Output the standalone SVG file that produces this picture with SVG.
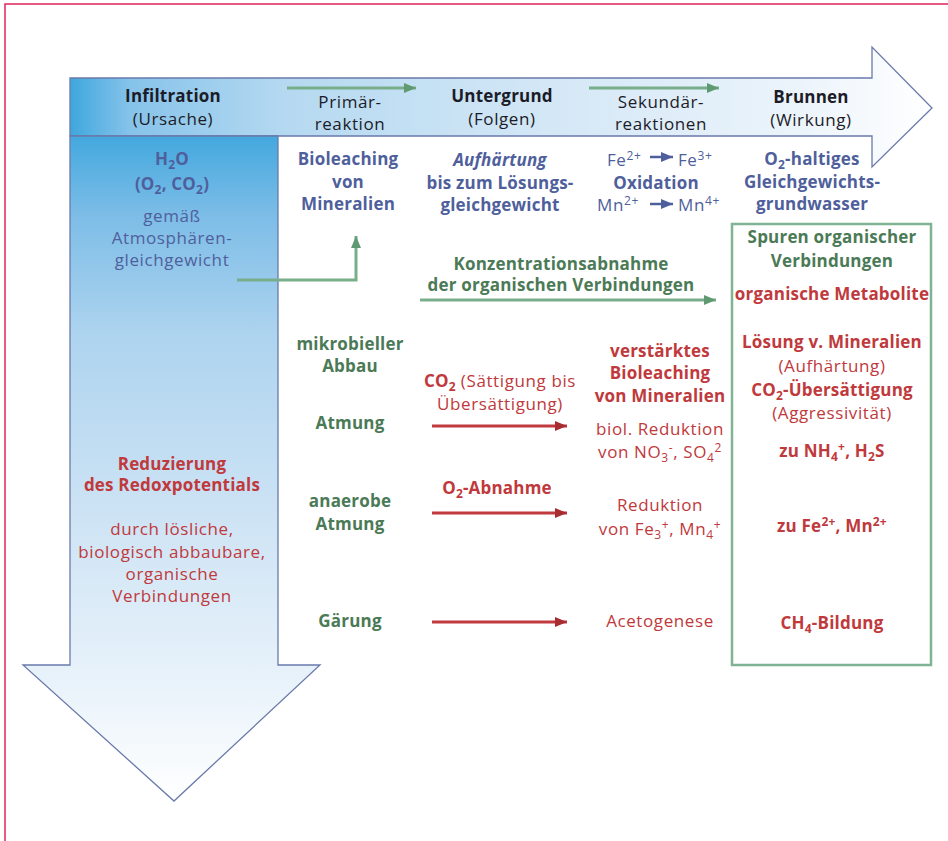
<svg xmlns="http://www.w3.org/2000/svg" width="948" height="841" viewBox="0 0 948 841">
<defs>
<linearGradient id="gh" gradientUnits="userSpaceOnUse" x1="70" y1="0" x2="930" y2="0">
<stop offset="0" stop-color="#3ea7de"/>
<stop offset="0.07" stop-color="#86c3ea"/>
<stop offset="0.25" stop-color="#b5d9f1"/>
<stop offset="0.55" stop-color="#d3e7f6"/>
<stop offset="0.85" stop-color="#ecf4fb"/>
<stop offset="1" stop-color="#ffffff"/>
</linearGradient>
<linearGradient id="gv" gradientUnits="userSpaceOnUse" x1="0" y1="136" x2="0" y2="801">
<stop offset="0" stop-color="#43a8de"/>
<stop offset="0.12" stop-color="#7dbde7"/>
<stop offset="0.3" stop-color="#aed4ef"/>
<stop offset="0.55" stop-color="#cbe2f4"/>
<stop offset="0.8" stop-color="#e6f1fa"/>
<stop offset="1" stop-color="#ffffff"/>
</linearGradient>
<marker id="mg" markerUnits="userSpaceOnUse" markerWidth="14" markerHeight="12" refX="12" refY="6" orient="auto">
<path d="M0,1 L12,6 L0,11 Z" fill="#5f9a72"/>
</marker>
<marker id="mr" markerUnits="userSpaceOnUse" markerWidth="14" markerHeight="12" refX="12" refY="6" orient="auto">
<path d="M0,1 L12,6 L0,11 Z" fill="#a82d31"/>
</marker>
<marker id="mb" markerUnits="userSpaceOnUse" markerWidth="14" markerHeight="12" refX="12" refY="6" orient="auto">
<path d="M0,1 L12,6 L0,11 Z" fill="#4f5f9c"/>
</marker>
</defs>
<style>
text{font-family:"Open Sans","Noto Sans",sans-serif;font-size:17px;letter-spacing:0.6px;text-anchor:middle}
.b{font-weight:bold;letter-spacing:0.2px}
.it{font-style:italic}
.hd{fill:#1c1c28}
.bl{fill:#4f5f9c}
.gr{fill:#4b7a56}
.rd{fill:#c0393c}
.sub{font-size:12px;baseline-shift:-4px}
.sup{font-size:12px;baseline-shift:6px}
.shape{stroke:#6a7aaa;stroke-width:1.3}
.gline{stroke:#79ae8b;stroke-width:3;fill:none}
.rline{stroke:#c0393c;stroke-width:3;fill:none}
</style>
<rect x="5" y="4" width="960" height="860" fill="none" stroke="#e0245a" stroke-width="1.5"/>
<g id="arrow-horizontal">
<polygon class="shape" fill="url(#gh)" points="70,78 872,78 872,47 932,108 872,167 872,136 70,136"/>
</g>
<g id="arrow-down">
<polygon class="shape" fill="url(#gv)" points="70,136 278,136 278,665 320,665 174,801 23,665 70,665"/>
</g>
<g id="connectors">
<line class="gline" x1="287" y1="88" x2="416" y2="88" marker-end="url(#mg)"/>
<line class="gline" x1="589" y1="88" x2="719" y2="88" marker-end="url(#mg)"/>
<polyline class="gline" points="237,280 356,280 356,236" marker-end="url(#mg)"/>
<line class="gline" x1="420" y1="300" x2="716" y2="300" marker-end="url(#mg)"/>
<line class="rline" x1="432" y1="426" x2="567" y2="426" marker-end="url(#mr)"/>
<line class="rline" x1="432" y1="513" x2="567" y2="513" marker-end="url(#mr)"/>
<line class="rline" x1="432" y1="622" x2="567" y2="622" marker-end="url(#mr)"/>
<line x1="650" y1="157" x2="673" y2="157" stroke="#4f5f9c" stroke-width="2.5" marker-end="url(#mb)"/>
<line x1="650" y1="204" x2="673" y2="204" stroke="#4f5f9c" stroke-width="2.5" marker-end="url(#mb)"/>
</g>
<g id="header">
<text class="hd b" x="173" y="102">Infiltration</text>
<text class="hd" x="173" y="125">(Ursache)</text>
<text class="hd" x="350" y="108">Primär-</text>
<text class="hd" x="350" y="130">reaktion</text>
<text class="hd b" x="502" y="102">Untergrund</text>
<text class="hd" x="502" y="125">(Folgen)</text>
<text class="hd" x="661" y="108">Sekundär-</text>
<text class="hd" x="661" y="130">reaktionen</text>
<text class="hd b" x="811" y="103">Brunnen</text>
<text class="hd" x="811" y="126">(Wirkung)</text>
</g>
<g id="node-h2o">
<text class="bl b" x="172" y="165">H<tspan class="sub">2</tspan>O</text>
<text class="bl b" x="172" y="190">(O<tspan class="sub">2</tspan>, CO<tspan class="sub">2</tspan>)</text>
<text class="bl" x="172" y="222">gemäß</text>
<text class="bl" x="172" y="244">Atmosphären-</text>
<text class="bl" x="172" y="266">gleichgewicht</text>
</g>
<g id="node-bioleaching">
<text class="bl b" x="348" y="165">Bioleaching</text>
<text class="bl b" x="348" y="188">von</text>
<text class="bl b" x="348" y="210">Mineralien</text>
</g>
<g id="node-aufhaertung">
<text class="bl b it" x="500" y="166">Aufhärtung</text>
<text class="bl b" x="500" y="189">bis zum Lösungs-</text>
<text class="bl b" x="500" y="211">gleichgewicht</text>
</g>
<g id="node-oxidation">
<text class="bl" x="607" y="166" style="text-anchor:start">Fe<tspan class="sup">2+</tspan></text>
<text class="bl" x="678" y="166" style="text-anchor:start">Fe<tspan class="sup">3+</tspan></text>
<text class="bl b" x="656" y="189">Oxidation</text>
<text class="bl" x="597" y="211" style="text-anchor:start">Mn<tspan class="sup">2+</tspan></text>
<text class="bl" x="678" y="211" style="text-anchor:start">Mn<tspan class="sup">4+</tspan></text>
</g>
<g id="node-o2-grundwasser">
<text class="bl b" x="812" y="165">O<tspan class="sub">2</tspan>-haltiges</text>
<text class="bl b" x="812" y="188">Gleichgewichts-</text>
<text class="bl b" x="812" y="210">grundwasser</text>
</g>
<g id="node-konzentration">
<text class="gr b" x="561" y="270">Konzentrationsabnahme</text>
<text class="gr b" x="561" y="291">der organischen Verbindungen</text>
</g>
<g id="node-brunnen-box">
<rect x="732" y="224" width="199" height="441" fill="none" stroke="#7fb394" stroke-width="2.5"/>
<text class="gr b" x="832" y="243">Spuren organischer</text>
<text class="gr b" x="832" y="267">Verbindungen</text>
<text class="rd b" x="832" y="300">organische Metabolite</text>
<text class="rd b" x="832" y="348">Lösung v. Mineralien</text>
<text class="rd" x="832" y="372">(Aufhärtung)</text>
<text class="rd b" x="832" y="396">CO<tspan class="sub">2</tspan>-Übersättigung</text>
<text class="rd" x="832" y="419">(Aggressivität)</text>
<text class="rd b" x="832" y="457">zu NH<tspan class="sub">4</tspan><tspan class="sup">+</tspan>, H<tspan class="sub">2</tspan>S</text>
<text class="rd b" x="832" y="532">zu Fe<tspan class="sup">2+</tspan>, Mn<tspan class="sup">2+</tspan></text>
<text class="rd b" x="832" y="629">CH<tspan class="sub">4</tspan>-Bildung</text>
</g>
<g id="node-abbau">
<text class="gr b" x="350" y="350">mikrobieller</text>
<text class="gr b" x="350" y="372">Abbau</text>
</g>
<g id="node-atmung">
<text class="gr b" x="350" y="429">Atmung</text>
</g>
<g id="node-anaerob">
<text class="gr b" x="350" y="507">anaerobe</text>
<text class="gr b" x="350" y="530">Atmung</text>
</g>
<g id="node-gaerung">
<text class="gr b" x="350" y="627">Gärung</text>
</g>
<g id="label-co2">
<text class="rd" x="500" y="387"><tspan class="b">CO<tspan class="sub">2</tspan></tspan> (Sättigung bis</text>
<text class="rd" x="500" y="410">Übersättigung)</text>
</g>
<g id="label-o2">
<text class="rd b" x="497" y="494">O<tspan class="sub">2</tspan>-Abnahme</text>
</g>
<g id="node-verstaerkt">
<text class="rd b" x="660" y="357">verstärktes</text>
<text class="rd b" x="660" y="379">Bioleaching</text>
<text class="rd b" x="660" y="402">von Mineralien</text>
<text class="rd" x="660" y="435">biol. Reduktion</text>
<text class="rd" x="660" y="458">von NO<tspan class="sub">3</tspan><tspan class="sup">-</tspan>, SO<tspan class="sub">4</tspan><tspan class="sup">2</tspan></text>
</g>
<g id="node-reduktion">
<text class="rd" x="660" y="511">Reduktion</text>
<text class="rd" x="660" y="535">von Fe<tspan class="sub">3</tspan><tspan class="sup">+</tspan>, Mn<tspan class="sub">4</tspan><tspan class="sup">+</tspan></text>
</g>
<g id="node-acetogenese">
<text class="rd" x="660" y="627">Acetogenese</text>
</g>
<g id="node-redox">
<text class="rd b" x="172" y="470">Reduzierung</text>
<text class="rd b" x="172" y="491">des Redoxpotentials</text>
<text class="rd" x="172" y="535">durch lösliche,</text>
<text class="rd" x="172" y="558">biologisch abbaubare,</text>
<text class="rd" x="172" y="580">organische</text>
<text class="rd" x="172" y="602">Verbindungen</text>
</g>
</svg>
